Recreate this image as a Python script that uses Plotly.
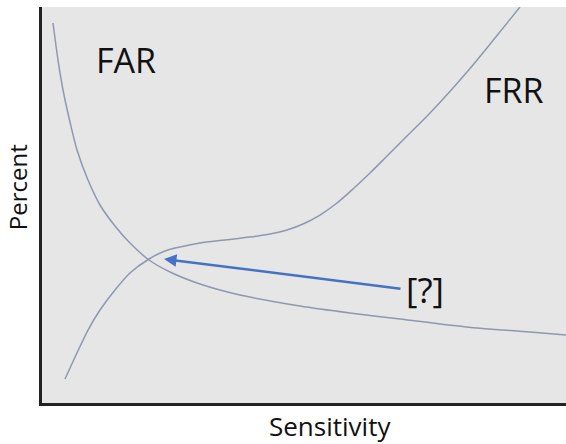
import plotly.graph_objects as go

# Data (Sensitivity on x, Percent on y, both 0-100 scale)
far_x = [2.10, 3.05, 4.01, 5.34, 6.68, 8.78, 11.07, 13.93, 16.79, 20.42, 24.43, 30.15,
         37.79, 49.24, 58.78, 68.32, 80.92, 93.13, 100.0]
far_y = [95.96, 86.62, 79.04, 70.96, 63.89, 56.31, 50.00, 44.70, 40.40, 36.11, 33.08, 30.05,
         27.27, 24.49, 22.73, 21.21, 19.19, 17.93, 17.17]

frr_x = [4.39, 6.49, 8.78, 11.07, 13.93, 16.79, 20.42, 23.47, 26.34, 30.15, 34.92, 39.69,
         43.51, 46.76, 49.81, 53.05, 56.30, 59.35, 62.60, 65.65, 68.89, 74.05, 81.11, 86.45, 91.22]
frr_y = [6.06, 12.12, 18.43, 23.48, 28.54, 32.83, 36.36, 38.38, 39.39, 40.40, 41.16, 41.92,
         42.68, 43.69, 45.20, 47.47, 50.51, 54.04, 58.08, 62.12, 66.41, 73.23, 83.59, 92.17, 100.0]

# Arrow: tail near the "[?]" label, head at the crossover (EER)
arrow_tail = (68.70, 28.79)
arrow_head = (23.28, 36.36)

label_far = ("FAR", 16.03, 86.62)
label_frr = ("FRR", 90.08, 79.04)
label_q = ("[?]", 73.09, 28.78)

x_title = "Sensitivity"
y_title = "Percent"

curve_color = "#8f98b0"
font_family = "Open Sans, Noto Sans, sans-serif"

fig = go.Figure()
fig.add_trace(go.Scatter(x=far_x, y=far_y, mode="lines",
                         line=dict(color=curve_color, width=1.5, shape="spline", smoothing=0.8),
                         name="FAR", showlegend=False, hoverinfo="skip"))
fig.add_trace(go.Scatter(x=frr_x, y=frr_y, mode="lines",
                         line=dict(color=curve_color, width=1.5, shape="spline", smoothing=0.8),
                         name="FRR", showlegend=False, hoverinfo="skip"))

fig.add_annotation(x=arrow_head[0], y=arrow_head[1], ax=arrow_tail[0], ay=arrow_tail[1],
                   xref="x", yref="y", axref="x", ayref="y", text="", showarrow=True,
                   arrowhead=2, arrowsize=1.0, arrowwidth=2.5, arrowcolor="#4472c4")

for txt, x, y in [label_far, label_frr]:
    fig.add_annotation(x=x, y=y, xref="x", yref="y", text=txt, showarrow=False,
                       font=dict(family=font_family, size=34, color="#111"))
fig.add_annotation(x=label_q[1], y=label_q[2], xref="x", yref="y", text=label_q[0], showarrow=False,
                   font=dict(family=font_family, size=35, color="#111"))

# Axis titles (placed off-centre as in the original)
fig.add_annotation(x=0.5496, y=-0.0581, xref="paper", yref="paper", text=x_title, showarrow=False,
                   xanchor="center", yanchor="middle", font=dict(family=font_family, size=26, color="#111"))
fig.add_annotation(x=-0.0477, y=0.545, xref="paper", yref="paper", text=y_title, showarrow=False,
                   textangle=-90, xanchor="center", yanchor="middle",
                   font=dict(family=font_family, size=24, color="#111"))

fig.update_layout(
    width=566, height=444,
    margin=dict(l=42, r=0, t=7, b=41, pad=0),
    paper_bgcolor="white", plot_bgcolor="#e6e6e6",
    font=dict(family=font_family, color="#111"),
)
fig.update_xaxes(range=[0, 100], showline=True, linecolor="#222", linewidth=3, showticklabels=False,
                 showgrid=False, zeroline=False, ticks="", automargin=False)
fig.update_yaxes(range=[0, 100], showline=True, linecolor="#222", linewidth=3, showticklabels=False,
                 showgrid=False, zeroline=False, ticks="", automargin=False)

fig.write_html("out.html", config={"displayModeBar": False},
               post_script="document.body.style.margin='0';document.body.style.overflow='hidden';")
